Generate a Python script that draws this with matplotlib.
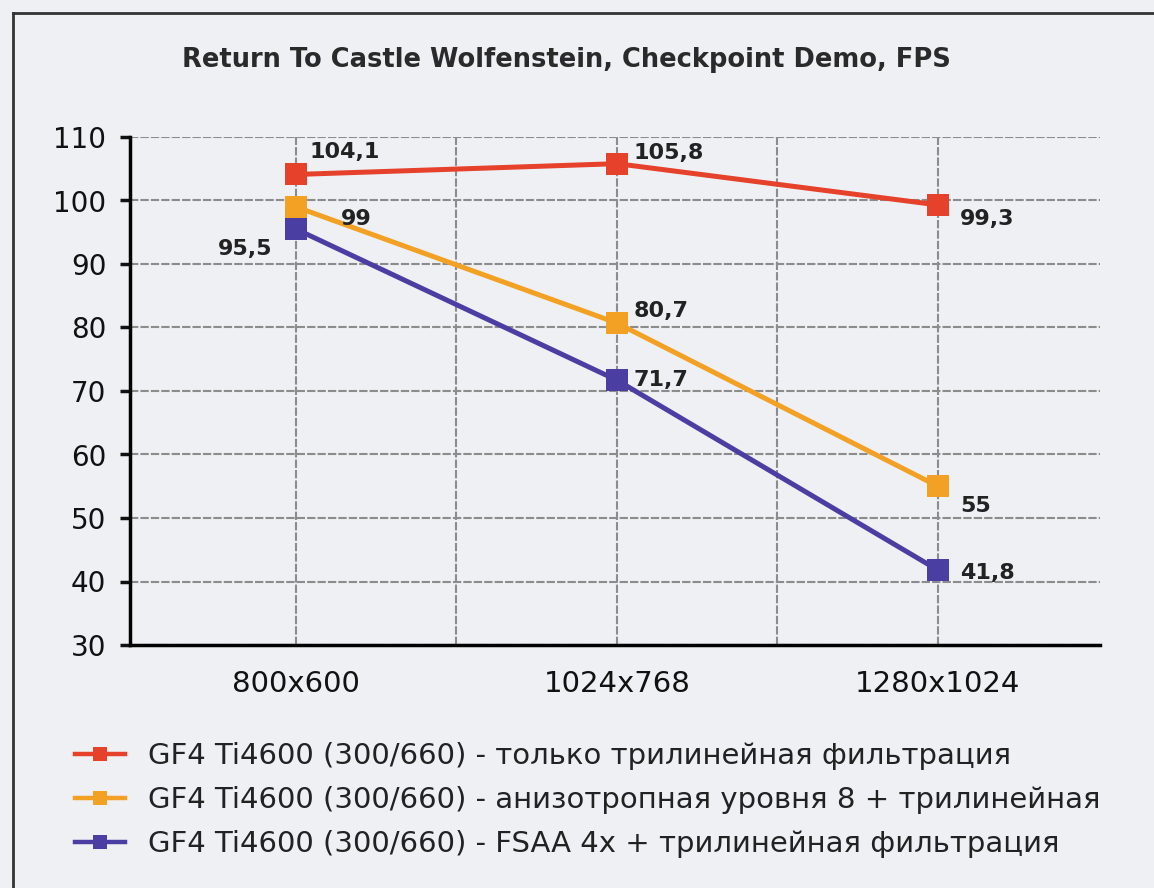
import matplotlib
matplotlib.use("Agg")
import matplotlib.pyplot as plt
from matplotlib.lines import Line2D

categories = ["800x600", "1024x768", "1280x1024"]
series_names = [
    "GF4 Ti4600 (300/660) - только трилинейная фильтрация",
    "GF4 Ti4600 (300/660) - анизотропная уровня 8 + трилинейная",
    "GF4 Ti4600 (300/660) - FSAA 4x + трилинейная фильтрация",
]
trilinear = [104.1, 105.8, 99.3]
aniso = [99.0, 80.7, 55.0]
fsaa = [95.5, 71.7, 41.8]
labels_trilinear = ["104,1", "105,8", "99,3"]
labels_aniso = ["99", "80,7", "55"]
labels_fsaa = ["95,5", "71,7", "41,8"]
y_ticks = [30, 40, 50, 60, 70, 80, 90, 100, 110]
title = "Return To Castle Wolfenstein, Checkpoint Demo, FPS"

colors = ["#e5412b", "#f2a125", "#4a3ea3"]
bg = "#eff0f4"

plt.rcParams['font.family'] = ['DejaVu Sans']

fig = plt.figure(figsize=(11.54, 8.88), dpi=100, facecolor=bg)
ax = fig.add_axes([130/1154, 1-645/888, (1100-130)/1154, (645-137)/888])
ax.set_facecolor(bg)

x = list(range(len(categories)))
series = [trilinear, aniso, fsaa]
labels = [labels_trilinear, labels_aniso, labels_fsaa]

ax.set_xlim(-0.517, 2.505)
ax.set_ylim(30, 110)
ax.set_yticks(y_ticks)
ax.set_yticklabels([str(v) for v in y_ticks], fontsize=20)
ax.set_xticks(x)
ax.set_xticklabels(categories, fontsize=21)
ax.set_xticks([0.5, 1.5], minor=True)

for s in ["top", "right"]:
    ax.spines[s].set_visible(False)
ax.spines["left"].set_linewidth(2.5)
ax.spines["bottom"].set_linewidth(2.5)
ax.tick_params(axis="y", length=7, width=2.5, pad=10, colors="#111111")
ax.tick_params(axis="x", which="both", length=0, pad=18, colors="#111111")

ax.grid(True, which="both", axis="x", color="#8c8c8c", linewidth=1.5, linestyle=(0, (4, 1)))
ax.grid(True, which="major", axis="y", color="#8c8c8c", linewidth=1.5, linestyle=(0, (4, 1)))
ax.set_axisbelow(True)

for vals, col in zip(series, colors):
    ax.plot(x, vals, color=col, linewidth=3.6, marker="s", markersize=16,
            markeredgewidth=0, zorder=3)

offsets = [
    [(10, 16), (12, 8), (16, -10)],
    [(32, -9), (12, 9), (16, -14)],
    [(-17, -14), (12, 0), (16, -2)],
]
has = [
    ["left", "left", "left"],
    ["left", "left", "left"],
    ["right", "left", "left"],
]
for vals, labs, offs, ha_row in zip(series, labels, offsets, has):
    for xi, v, lab, off, ha in zip(x, vals, labs, offs, ha_row):
        ax.annotate(lab, (xi, v), xytext=off, textcoords="offset points",
                    ha=ha, va="center", fontsize=16, fontweight="bold",
                    color="#222222", zorder=4)

fig.text(566/1154, 1-60/888, title, ha="center", va="center",
         fontsize=18.5, fontweight="bold", color="#2a2a2a")

handles = [Line2D([0], [0], color=c, linewidth=3.2, marker="s", markersize=10,
                  markeredgewidth=0) for c in colors]
fig.legend(handles, series_names, loc="upper left",
           bbox_to_anchor=(75/1154, 1-742/888), frameon=False,
           fontsize=21, handlelength=1.7, handletextpad=0.8,
           labelspacing=0.55, borderpad=0, borderaxespad=0,
           labelcolor="#222222")

# outer frame (left and top edges visible)
fig.add_artist(Line2D([13/1154, 13/1154], [0, 1-13/888], transform=fig.transFigure,
                      color="#333333", linewidth=2))
fig.add_artist(Line2D([13/1154, 1], [1-13/888, 1-13/888], transform=fig.transFigure,
                      color="#333333", linewidth=2))

fig.savefig("out.png", dpi=100, facecolor=bg)
